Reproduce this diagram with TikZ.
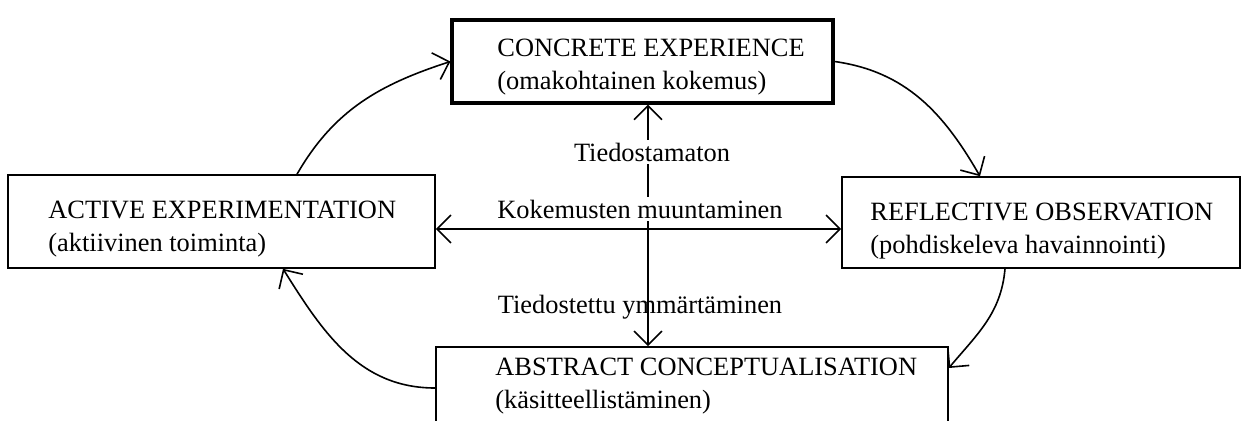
\documentclass[tikz,border=0pt]{standalone}
\usepackage{fontspec}
\setmainfont{Liberation Serif}
\usetikzlibrary{arrows.meta,positioning}

\begin{document}
\begin{tikzpicture}[x=0.5pt, y=0.5pt,
    frame/.style={draw, line width=0.8pt, inner sep=0pt},
    caption/.style={anchor=west, align=left, inner sep=0pt,
        font=\fontsize{13.2pt}{16.5pt}\selectfont},
    note/.style={fill=white, inner sep=1.5pt, font=\fontsize{13.2pt}{16pt}\selectfont},
    flow/.style={line width=0.8pt, -{Straight Barb[length=7pt,width=14pt]}},
    cross/.style={line width=0.8pt, {Straight Barb[length=7pt,width=14pt]}-{Straight Barb[length=7pt,width=14pt]}}]
    \useasboundingbox (0,0) rectangle (1248,-420);
    \clip (0,0) rectangle (1248,-420);

    % 四个方框
    \node[frame, line width=1.6pt, minimum width=190.5pt, minimum height=41.5pt] (concrete) at (642.5,-61.5) {};
    \node[frame, minimum width=213.5pt, minimum height=46.5pt] (active) at (221.5,-221.5) {};
    \node[frame, minimum width=199pt, minimum height=45.5pt] (reflective) at (1041,-222.5) {};
    \node[frame, minimum width=256pt, minimum height=50pt] (abstract) at (692,-397) {};

    \node[caption] (concretetxt) at (497,-67) {CONCRETE EXPERIENCE\\(omakohtainen kokemus)};
    \node[caption] (activetxt) at (48,-229) {ACTIVE EXPERIMENTATION\\(aktiivinen toiminta)};
    \node[caption] (reflectivetxt) at (870,-231) {REFLECTIVE OBSERVATION\\(pohdiskeleva havainnointi)};
    \node[caption] (abstracttxt) at (495,-386) {ABSTRACT CONCEPTUALISATION\\(käsitteellistäminen)};

    % 中心十字箭头
    \coordinate (hub) at (648,-229);
    \draw[cross] (hub |- concrete.south) -- (hub |- abstract.north);
    \draw[cross] (active.east |- hub) -- (reflective.west |- hub);

    \node[note] (unaware) at (652,-152) {Tiedostamaton};
    \node[note] (transform) at (640,-209) {Kokemusten muuntaminen};
    \node[note, fill=none] (aware) at (640,-307) {Tiedostettu ymmärtäminen};

    % 循环箭头
    \draw[flow] ([xshift=37.75pt]active.north) to[out=60, in=198] (concrete.west);
    \draw[flow] (concrete.east) to[out=-8, in=120] ([xshift=-30.5pt]reflective.north);
    \draw[flow] ([xshift=-18pt]reflective.south) to[out=-95, in=50] ([yshift=14.5pt]abstract.east);
    \draw[flow] ([yshift=4.5pt]abstract.west) to[out=180, in=-58] ([xshift=30.75pt]active.south);
\end{tikzpicture}
\end{document}
